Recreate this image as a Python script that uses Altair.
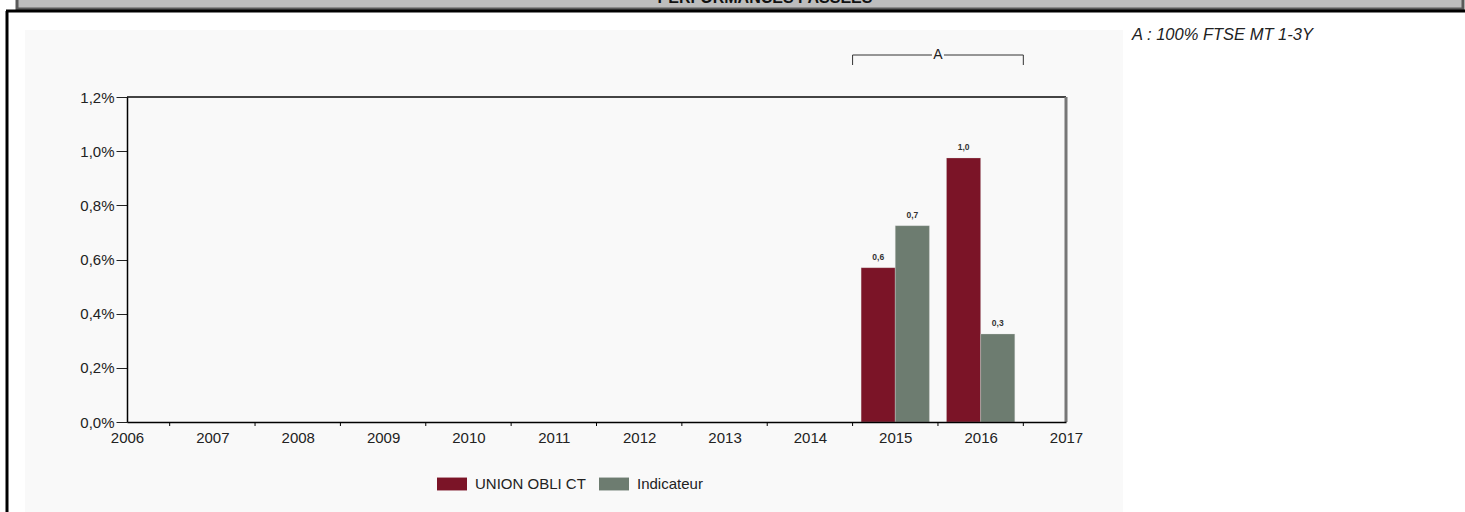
import altair as alt
import pandas as pd

# ---- data ----
years = [2015, 2016]
fund_values = [0.57, 0.975]        # UNION OBLI CT (%)
bench_values = [0.725, 0.325]      # Indicateur (%)
series_names = ["UNION OBLI CT", "Indicateur"]
series_colors = ["#7b1427", "#6d7c70"]
axis_years = list(range(2006, 2018))
y_ticks = [0, 0.2, 0.4, 0.6, 0.8, 1.0, 1.2]
period_label = "A"
period_range = [2014.5, 2016.5]
period_note = "A : 100% FTSE MT 1-3Y"
header_title = "PERFORMANCES PASSEES"

FONT = "Liberation Sans"
W, H = 939, 325

rows = []
for y, v in zip(years, fund_values):
    rows.append({"year": y, "series": series_names[0], "order": 0, "value": v})
for y, v in zip(years, bench_values):
    rows.append({"year": y, "series": series_names[1], "order": 1, "value": v})
bars_df = pd.DataFrame(rows)

xscale = alt.Scale(domain=[axis_years[0], axis_years[-1]], nice=False, zero=False, padding=0)
yscale = alt.Scale(domain=[0, 1.2], nice=False, padding=0)

base = alt.Chart(bars_df).transform_calculate(
    x0="datum.year - 0.4 + 0.4*datum.order",
    x1="datum.year + 0.4*datum.order",
    xm="datum.year - 0.2 + 0.4*datum.order",
    lab="replace(format(datum.value, '.1f'), '.', ',')",
)

# decorations (page frame)
deco = pd.DataFrame({"k": [0]})
header = alt.Chart(deco).mark_rect(fill="#bdbdbd", stroke="#5a5a5a", strokeWidth=3).encode(
    x=alt.value(-110), x2=alt.value(1336), y=alt.value(-105), y2=alt.value(-88))
header_txt = alt.Chart(deco).mark_text(text=header_title, font=FONT, fontSize=16,
                                        fontWeight="bold", baseline="alphabetic",
                                        align="center", color="#111").encode(
    x=alt.value(638), y=alt.value(-94))
outer_left = alt.Chart(deco).mark_rule(color="black", strokeWidth=3).encode(
    x=alt.value(-120), y=alt.value(-86), y2=alt.value(420))
outer_top = alt.Chart(deco).mark_rule(color="black", strokeWidth=3).encode(
    x=alt.value(-121), x2=alt.value(1340), y=alt.value(-86))
panel = alt.Chart(deco).mark_rect(fill="#f9f9f9").encode(
    x=alt.value(-102), x2=alt.value(996), y=alt.value(-67), y2=alt.value(420))
frame_top = alt.Chart(deco).mark_rule(color="#444", strokeWidth=2).encode(
    x=alt.value(0), x2=alt.value(W), y=alt.value(0))
frame_right = alt.Chart(deco).mark_rule(color="#777", strokeWidth=3).encode(
    x=alt.value(W), y=alt.value(0), y2=alt.value(H))

# x axis ticks between years
ticks_df = pd.DataFrame({"t": [y + 0.5 for y in axis_years[:-1]]})
xticks = alt.Chart(ticks_df).mark_rule(color="black", strokeWidth=1).encode(
    x=alt.X("t:Q", scale=xscale), y=alt.value(H), y2=alt.value(H + 4))

# bracket for period A
br_df = pd.DataFrame({"a": [period_range[0]], "b": [period_range[1]]})
br = alt.Chart(br_df).transform_calculate(mid="(datum.a + datum.b)/2")
br_left = br.mark_rule(color="#333").encode(
    x=alt.X("a:Q", scale=xscale), x2=alt.X2("mid_l:Q"), y=alt.value(-42)
).transform_calculate(mid_l="(datum.a + datum.b)/2 - 0.07")
br_right = br.mark_rule(color="#333").encode(
    x=alt.X("mid_r:Q", scale=xscale), x2=alt.X2("b:Q"), y=alt.value(-42)
).transform_calculate(mid_r="(datum.a + datum.b)/2 + 0.07")
br_l_end = br.mark_rule(color="#333").encode(
    x=alt.X("a:Q", scale=xscale), y=alt.value(-42), y2=alt.value(-32))
br_r_end = br.mark_rule(color="#333").encode(
    x=alt.X("b:Q", scale=xscale), y=alt.value(-42), y2=alt.value(-32))
br_txt = br.mark_text(text=period_label, font=FONT, fontSize=14, color="#222",
                      baseline="middle").encode(
    x=alt.X("mid:Q", scale=xscale), y=alt.value(-42))

note = alt.Chart(deco).mark_text(text=period_note, font=FONT, fontSize=16.5, fontStyle="italic",
                                  align="left", baseline="middle", color="#222").encode(
    x=alt.value(1005), y=alt.value(-62))

bars = base.mark_bar(stroke="#d9d9d9", strokeWidth=0.5, strokeOpacity=0.6,
                     orient="vertical").encode(
    x=alt.X("x0:Q", scale=xscale,
            axis=alt.Axis(values=axis_years, format="d", ticks=False, tickSize=0,
                          labelPadding=8, labelFontSize=15, labelFont=FONT,
                          labelColor="#222", domainColor="black", domainWidth=1.5,
                          grid=False, title=None, zindex=2, labelFlush=False)),
    x2="x1:Q",
    y=alt.Y("value:Q", scale=yscale,
            axis=alt.Axis(values=y_ticks, tickSize=11, tickColor="#222", tickWidth=1,
                          labelExpr="replace(format(datum.value, '.1f'), '.', ',') + '%'",
                          labelPadding=2, labelFontSize=15, labelFont=FONT,
                          labelColor="#222", domainColor="black", domainWidth=1.5,
                          grid=False, title=None, zindex=2)),
    y2=alt.datum(0),
    color=alt.Color("series:N", scale=alt.Scale(domain=series_names, range=series_colors),
                    legend=alt.Legend(orient="none", legendX=310, legendY=372,
                                      direction="horizontal", title=None,
                                      symbolType="M-1,-0.43H1V0.43H-1Z", symbolSize=900,
                                      symbolStrokeWidth=0, labelFont=FONT, labelFontSize=15,
                                      labelColor="#222", labelOffset=8, columnPadding=13,
                                      padding=0)),
)

labels = base.mark_text(font=FONT, fontSize=8.5, fontWeight="bold", color="#333",
                        baseline="bottom", dy=-6).encode(
    x=alt.X("xm:Q", scale=xscale), y=alt.Y("value:Q", scale=yscale), text="lab:N")

chart = alt.layer(
    header, outer_left, outer_top, header_txt, panel,
    bars, labels, xticks, frame_top, frame_right,
    br_left, br_right, br_l_end, br_r_end, br_txt, note,
).properties(
    width=W, height=H,
    autosize=alt.AutoSizeParams(type="none"),
    padding={"left": 127, "top": 97, "right": 399, "bottom": 90},
).configure(background="white").configure_view(stroke=None)

chart.save("out.html", embed_options={"renderer": "svg", "actions": False})
